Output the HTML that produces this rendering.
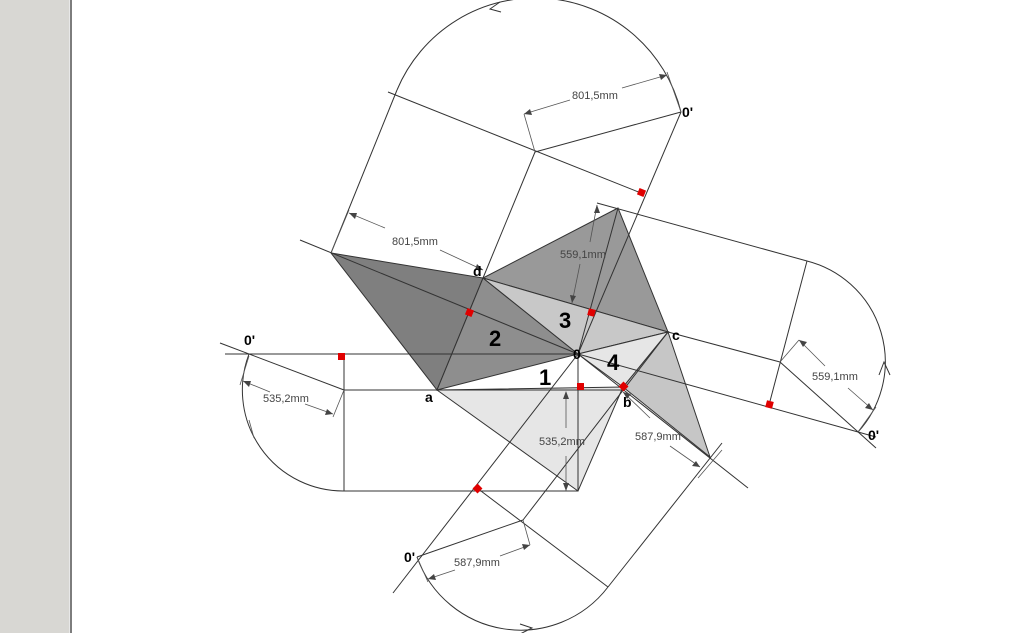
<!DOCTYPE html>
<html><head><meta charset="utf-8"><style>
html,body{margin:0;padding:0;width:1024px;height:633px;overflow:hidden;background:#fff}
svg{display:block}
text{font-family:"Liberation Sans",sans-serif}
.d{font-size:11px;fill:#444}
.l{font-size:14px;font-weight:bold;fill:#000}
.n{font-size:22px;font-weight:bold;fill:#000}
</style></head><body>
<svg width="1024" height="633" viewBox="0 0 1024 633" xmlns="http://www.w3.org/2000/svg">
<rect x="0" y="0" width="69" height="633" fill="#d8d7d3"/>
<rect x="69" y="0" width="1" height="633" fill="#e8e8e8"/>
<rect x="70" y="0" width="2" height="633" fill="#7d7d7d"/>
<g stroke="#333" stroke-width="1">
<polygon points="437,390 483,278 331,253" fill="#7f7f7f"/>
<polygon points="483,278 668,332 618,208" fill="#999"/>
<polygon points="668,332 623,387 710,457" fill="#c6c6c6"/>
<polygon points="437,390 623,387 578,491" fill="#e6e6e6"/>
<polygon points="578,354 437,390 483,278" fill="#8e8e8e"/>
<polygon points="578,354 483,278 668,332" fill="#c8c8c8"/>
<polygon points="578,354 668,332 623,387" fill="#e6e6e6"/>
</g>
<g stroke="#333" stroke-width="1" fill="none">
<line x1="225" y1="354" x2="578" y2="354"/>
<line x1="220" y1="343" x2="344" y2="390"/>
<line x1="344" y1="390" x2="623" y2="390"/>
<line x1="344" y1="354" x2="344" y2="491"/>
<line x1="344" y1="491" x2="578" y2="491"/>
<line x1="578" y1="354" x2="578" y2="491"/>
<path d="M344,491 A101,101 0 0 1 249,354"/>
<line x1="300" y1="240" x2="578" y2="354"/>
<line x1="578" y1="354" x2="748" y2="488"/>
<line x1="578" y1="354" x2="393" y2="593"/>
<line x1="578" y1="354" x2="681" y2="112"/>
<line x1="578" y1="354" x2="618" y2="208"/>
<line x1="578" y1="354" x2="876" y2="437"/>
<line x1="331" y1="253" x2="397" y2="90"/>
<line x1="388" y1="92" x2="641" y2="193"/>
<line x1="483" y1="278" x2="535" y2="152"/>
<line x1="535" y1="152" x2="681" y2="112"/>
<path d="M397,90 A150,150 0 0 1 681,112"/>
<line x1="597" y1="203" x2="807" y2="261"/>
<line x1="807" y1="261" x2="769" y2="405"/>
<line x1="668" y1="332" x2="780" y2="362"/>
<line x1="780" y1="362" x2="876" y2="448"/>
<path d="M807,261 A104,104 0 0 1 858,432"/>
<line x1="668" y1="332" x2="523" y2="520"/>
<line x1="477" y1="488" x2="608" y2="587"/>
<line x1="417" y1="557" x2="523" y2="520"/>
<line x1="608" y1="587" x2="722" y2="443"/>
<path d="M608,587 A110,110 0 0 1 417,557"/>
<polyline points="500,2 490,9 501,12"/>
<polyline points="879,375 884,362 890,375"/>
<polyline points="520,624 532,628 520,634"/>
</g>
<g stroke="#555" stroke-width="0.8" fill="none">
<line x1="349" y1="213" x2="385" y2="228"/><line x1="440" y1="250" x2="483" y2="270"/>
<line x1="331" y1="253" x2="349" y2="210"/>
<line x1="524" y1="114" x2="570" y2="100"/><line x1="622" y1="88" x2="667" y2="75"/>
<line x1="524" y1="114" x2="535" y2="152"/><line x1="667" y1="72" x2="681" y2="112"/>
<line x1="597" y1="205" x2="590" y2="242"/><line x1="580" y1="264" x2="572" y2="303"/>
<line x1="799" y1="340" x2="825" y2="366"/><line x1="848" y1="388" x2="873" y2="410"/>
<line x1="799" y1="340" x2="780" y2="362"/><line x1="876" y1="407" x2="858" y2="432"/>
<line x1="623" y1="392" x2="650" y2="418"/><line x1="670" y1="446" x2="700" y2="467"/>
<line x1="698" y1="478" x2="722" y2="450"/>
<line x1="428" y1="579" x2="455" y2="570"/><line x1="500" y1="556" x2="530" y2="545"/>
<line x1="530" y1="545" x2="523" y2="520"/><line x1="428" y1="582" x2="417" y2="557"/>
<line x1="566" y1="392" x2="566" y2="428"/><line x1="566" y1="456" x2="566" y2="491"/>
<line x1="243" y1="381" x2="270" y2="392"/><line x1="305" y1="404" x2="333" y2="414"/>
<line x1="240" y1="385" x2="249" y2="356"/><line x1="333" y1="417" x2="344" y2="390"/>
<line x1="249" y1="420" x2="254" y2="438"/>
</g>
<g fill="#444">
<polygon points="349,213 357,213 355,219"/>
<polygon points="483,270 475,270 477,264"/>
<polygon points="524,114 530,109 532,115"/>
<polygon points="667,75 661,80 659,74"/>
<polygon points="597,205 594,213 600,213"/>
<polygon points="572,303 570,295 576,296"/>
<polygon points="799,340 807,342 803,347"/>
<polygon points="873,410 865,408 869,403"/>
<polygon points="623,392 631,394 627,399"/>
<polygon points="700,467 692,466 696,461"/>
<polygon points="428,579 434,574 436,580"/>
<polygon points="530,545 524,550 522,544"/>
<polygon points="566,391 563,399 569,399"/>
<polygon points="566,491 563,483 569,483"/>
<polygon points="243,381 251,381 249,387"/>
<polygon points="333,414 325,415 327,409"/>
</g>
<g fill="#e00000">
<rect x="338" y="353" width="7" height="7"/>
<rect x="577" y="383" width="7" height="7"/>
<rect x="466" y="309" width="7" height="7" transform="rotate(22 469.5 312.5)"/>
<rect x="588" y="309" width="7" height="7" transform="rotate(15 591.5 312.5)"/>
<rect x="638" y="189" width="7" height="7" transform="rotate(22 641.5 192.5)"/>
<rect x="766" y="401" width="7" height="7" transform="rotate(15 769.5 404.5)"/>
<rect x="620" y="383" width="7" height="7" transform="rotate(45 623.5 386.5)"/>
<rect x="474" y="485" width="7" height="7" transform="rotate(45 477.5 488.5)"/>
</g>
<text class="d" x="392" y="245">801,5mm</text>
<text class="d" x="572" y="99">801,5mm</text>
<text class="d" x="560" y="258">559,1mm</text>
<text class="d" x="812" y="380">559,1mm</text>
<text class="d" x="635" y="440">587,9mm</text>
<text class="d" x="454" y="566">587,9mm</text>
<text class="d" x="539" y="445">535,2mm</text>
<text class="d" x="263" y="402">535,2mm</text>
<text class="l" x="244" y="345">0'</text>
<text class="l" x="682" y="117">0'</text>
<text class="l" x="868" y="440">0'</text>
<text class="l" x="404" y="562">0'</text>
<text class="l" x="425" y="402">a</text>
<text class="l" x="623" y="407">b</text>
<text class="l" x="672" y="340">c</text>
<text class="l" x="473" y="276">d</text>
<text class="l" x="573" y="359">0</text>
<text class="n" x="539" y="385">1</text>
<text class="n" x="489" y="346">2</text>
<text class="n" x="559" y="328">3</text>
<text class="n" x="607" y="370">4</text>
</svg>
</body></html>
